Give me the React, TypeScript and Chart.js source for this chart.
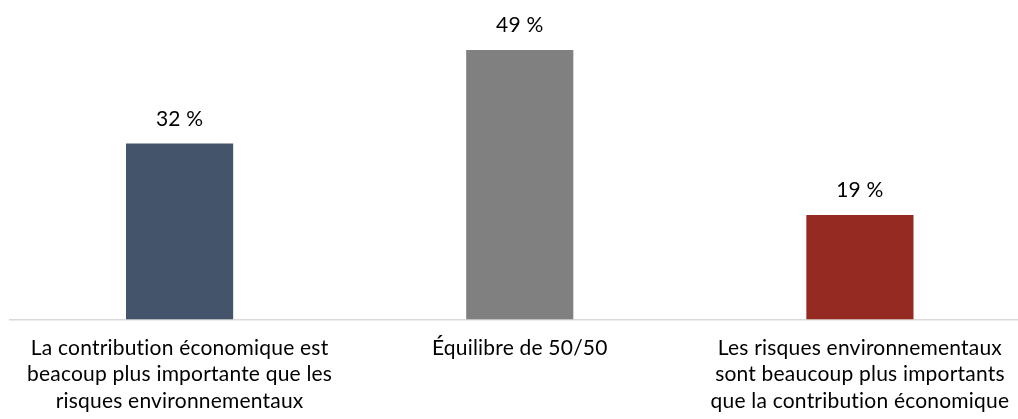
import React, { useEffect, useRef } from "react";
import { Chart, registerables } from "chart.js";

Chart.register(...registerables);

const categories: string[][] = [
  ["La contribution économique est", "beacoup plus importante que les", "risques environnementaux"],
  ["Équilibre de 50/50"],
  ["Les risques environnementaux", "sont beaucoup plus importants", "que la contribution économique"],
];
const values: number[] = [32, 49, 19];
const valueLabels: string[] = ["32 %", "49 %", "19 %"];
const barColors: string[] = ["#44546A", "#808080", "#952A22"];

const FONT = "Lato, 'Open Sans', sans-serif";

const noLigaturePlugin = {
  id: "noLigatures",
  beforeDraw(chart: any) {
    try {
      chart.ctx.letterSpacing = "0.2px";
    } catch (e) {}
  },
};

const valueLabelPlugin = {
  id: "valueLabels",
  afterDatasetsDraw(chart: any) {
    const ctx = chart.ctx;
    const meta = chart.getDatasetMeta(0);
    ctx.save();
    ctx.font = `21px ${FONT}`;
    ctx.fillStyle = "#000000";
    ctx.textAlign = "center";
    ctx.textBaseline = "alphabetic";
    meta.data.forEach((bar: any, i: number) => {
      ctx.fillText(valueLabels[i], bar.x, bar.y - 18);
    });
    ctx.restore();
  },
};

export default function App() {
  const ref = useRef<HTMLCanvasElement>(null);
  useEffect(() => {
    document.body.style.margin = "0";
    document.body.style.overflow = "hidden";
    const chart = new Chart(ref.current!, {
      type: "bar",
      data: {
        labels: categories,
        datasets: [
          {
            data: values,
            backgroundColor: barColors,
            barPercentage: 0.315,
            categoryPercentage: 1,
          },
        ],
      },
      options: {
        animation: false,
        responsive: false,
        maintainAspectRatio: false,
        layout: { padding: { left: 9.5, right: 0, top: 17, bottom: 0 } },
        plugins: { legend: { display: false }, tooltip: { enabled: false } },
        scales: {
          x: {
            grid: { display: false, drawTicks: false },
            border: { display: true, color: "#D9D9D9", width: 1.5 },
            ticks: {
              color: "#000000",
              font: { family: FONT, size: 21, lineHeight: 1.27 },
              padding: 15,
              maxRotation: 0,
              autoSkip: false,
            },
            afterFit(scale: any) {
              scale.height = 99.5;
            },
          },
          y: {
            display: false,
            min: 0,
            max: 55,
          },
        },
      },
      plugins: [noLigaturePlugin, valueLabelPlugin],
    });
    return () => chart.destroy();
  }, []);
  return (
    <div style={{ width: 1030, height: 419 }}>
      <canvas ref={ref} width={1030} height={419} style={{ display: "block", width: 1030, height: 419 }} />
    </div>
  );
}
